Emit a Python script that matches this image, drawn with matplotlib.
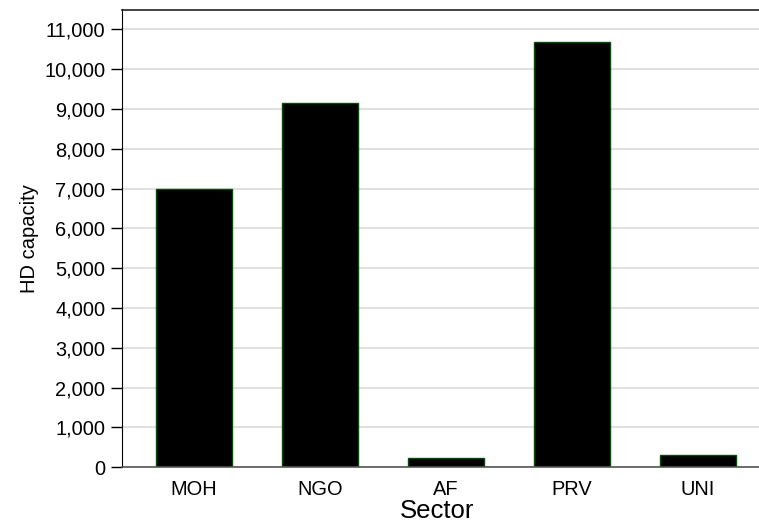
import matplotlib.pyplot as plt
from matplotlib.ticker import FuncFormatter

plt.rcParams['font.family'] = ['Liberation Sans', 'DejaVu Sans']

# HD capacity by sector
sectors = ["MOH", "NGO", "AF", "PRV", "UNI"]
capacity = [7000, 9150, 230, 10680, 300]
y_ticks = list(range(0, 11001, 1000))

W, H = 759, 525
fig = plt.figure(figsize=(W / 100, H / 100), dpi=100)
# axes runs past the right edge, like the reference
ax = fig.add_axes([122 / W, (H - 467.3) / H, 648 / W, (467.3 - 9.5) / H])

ax.set_axisbelow(True)
ax.yaxis.grid(True, color="#e0e0e0", linewidth=1.5)
ax.bar(range(len(sectors)), capacity, width=0.6, color="black",
       edgecolor="#0b4a0b", linewidth=1.0)

ax.set_xlim(-0.57, 4.57)
ax.set_ylim(0, 11500)
ax.set_yticks(y_ticks)
ax.yaxis.set_major_formatter(FuncFormatter(lambda v, p: f"{int(v):,}"))
ax.set_xticks(range(len(sectors)))
ax.set_xticklabels(sectors)

ax.tick_params(axis="y", length=8, width=1, color="black", labelsize=14.4, pad=4)
ax.tick_params(axis="x", length=0, labelsize=14.4, pad=9)

ax.spines["right"].set_visible(False)
ax.spines["left"].set_color("black")
ax.spines["top"].set_color("#222222")
ax.spines["top"].set_linewidth(1.2)
ax.spines["bottom"].set_color("#555555")
ax.spines["bottom"].set_linewidth(1.2)

ax.set_ylabel("HD capacity", fontsize=14.5, labelpad=4)
# x title sits a bit left of the axes centre in the reference
fig.text(437 / W, 1 - 511 / H, "Sector", fontsize=18.5, ha="center", va="center")

fig.savefig("out.png", dpi=100)
